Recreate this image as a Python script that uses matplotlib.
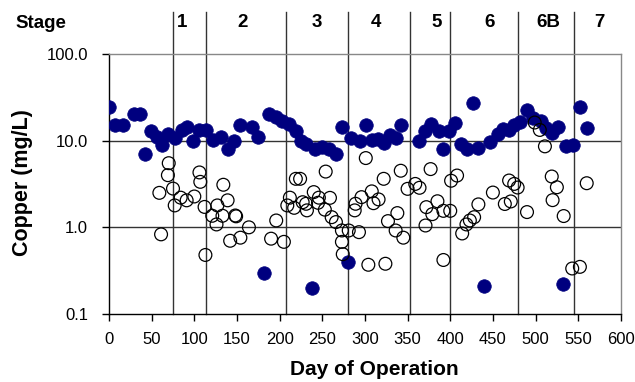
import matplotlib
matplotlib.use("Agg")
import matplotlib.pyplot as plt
import numpy as np

plt.rcParams['font.family'] = ['Liberation Sans', 'DejaVu Sans']

# Filled (blue) series
filled_day = [0, 7, 16, 29, 36, 42, 49, 56, 62, 69, 77, 85, 91, 98, 106, 114, 122, 131, 139,
              147, 154, 168, 175, 182, 188, 196, 203, 211, 219, 225, 231, 238, 242, 250, 258, 266,
              273, 280, 284, 294, 301, 308, 315, 322, 329, 336, 342, 363, 371, 378, 387, 392,
              399, 406, 413, 420, 427, 433, 440, 447, 456, 462, 469, 475, 482, 490, 497, 506,
              512, 519, 526, 532, 536, 544, 552, 560]
filled_val = [24.6, 15.1, 15.1, 20.3, 20.3, 7.0, 13.0, 10.9, 8.9, 12.1, 10.6, 13.3, 14.2, 10.0,
              13.3, 13.3, 10.2, 10.9, 8.0, 10.0, 15.1, 14.2, 10.9, 0.30, 20.3, 18.6, 17.0, 15.6,
              13.0, 10.0, 9.1, 0.20, 8.0, 8.4, 8.0, 7.0, 14.5, 0.40, 10.8, 10.0, 15.3, 10.3,
              10.5, 9.5, 11.6, 10.7, 15.3, 9.9, 13.0, 15.6, 12.8, 8.0, 13.0, 16.2, 9.1, 8.0,
              26.9, 8.2, 0.21, 9.7, 12.0, 13.7, 13.2, 15.2, 16.5, 22.3, 18.2, 17.0, 14.0,
              12.2, 14.2, 0.22, 8.6, 9.0, 24.6, 14.0]

# Open series
open_day = [59, 61, 69, 70, 75, 77, 84, 91, 100, 106, 107, 112, 113, 121, 126, 127, 133, 134,
            139, 142, 148, 149, 154, 164, 190, 196, 205, 209, 212, 217, 219, 224, 227, 231,
            232, 240, 246, 245, 253, 254, 259, 261, 266, 273, 273, 274, 281, 288, 289, 293,
            296, 301, 304, 308, 310, 316, 322, 324, 327, 336, 338, 342, 345, 350, 359, 364,
            371, 372, 377, 379, 385, 392, 392, 400, 401, 408, 414, 419, 423, 428, 433, 450,
            464, 469, 471, 475, 479, 490, 499, 505, 511, 519, 520, 525, 533, 543, 552, 560]
open_val = [2.5, 0.83, 4.0, 5.5, 2.8, 1.79, 2.2, 2.05, 2.27, 4.3, 3.35, 1.72, 0.48, 1.36,
            1.08, 1.79, 1.36, 3.1, 2.05, 0.70, 1.37, 1.34, 0.76, 1.0, 0.74, 1.2, 0.68, 1.79,
            2.2, 1.68, 3.63, 3.63, 1.95, 1.87, 1.57, 2.55, 2.2, 1.92, 1.6, 4.4, 2.19, 1.31,
            1.15, 0.92, 0.68, 0.49, 0.92, 1.57, 1.87, 0.88, 2.23, 6.3, 0.37, 2.6, 1.9, 2.1,
            3.63, 0.38, 1.18, 0.92, 1.46, 4.5, 0.76, 2.78, 3.17, 2.86, 1.05, 1.71, 4.7, 1.42,
            2.0, 1.55, 0.42, 1.55, 3.45, 3.96, 0.85, 1.08, 1.2, 1.31, 1.84, 2.52, 1.86, 3.47,
            1.99, 3.17, 2.88, 1.5, 16.2, 13.3, 8.6, 3.86, 2.06, 2.9, 1.35, 0.335, 0.35, 3.23]

stage_bounds = [75, 114, 208, 280, 353, 400, 480, 545]
stage_labels = ["1", "2", "3", "4", "5", "6", "6B", "7"]
stage_label_x = [86, 156, 244, 313, 384, 446, 515, 575]

fig = plt.figure(figsize=(6.35, 3.82), dpi=100)
ax = fig.add_axes([0.1717, 0.178, 0.806, 0.6806])

ax.set_yscale('log')
ax.set_xlim(0, 600)
ax.set_ylim(0.1, 100)

for v in [1, 10]:
    ax.axhline(v, color='#333333', lw=1.0, zorder=1)

for b in stage_bounds:
    ax.plot([b, b], [0, 1.162], transform=ax.get_xaxis_transform(), color='#333333',
            lw=1.0, clip_on=False, zorder=1)

ax.scatter(filled_day, filled_val, s=95, color='#00007f', edgecolors='#00007f',
           linewidths=0.5, zorder=3)
ax.scatter(open_day, open_val, s=85, facecolors='none', edgecolors='black',
           linewidths=0.9, zorder=4)

for lab, x in zip(stage_labels, stage_label_x):
    ax.text(x, 1.123, lab, transform=ax.get_xaxis_transform(), ha='center', va='center',
            fontsize=13.5, fontweight='bold')
fig.text(40.5 / 635, 1 - 23 / 382, "Stage", ha='center', va='center', fontsize=13.5,
         fontweight='bold')

ax.set_xticks(np.arange(0, 601, 50))
ax.set_yticks([0.1, 1, 10, 100])
ax.set_yticklabels(["0.1", "1.0", "10.0", "100.0"])
ax.yaxis.set_minor_locator(matplotlib.ticker.NullLocator())
ax.tick_params(axis='both', labelsize=12, direction='out', length=5, width=1)
ax.tick_params(axis='y', pad=10)
ax.tick_params(axis='x', pad=8)

for s in ['top', 'right']:
    ax.spines[s].set_color('#888888')
    ax.spines[s].set_linewidth(1.0)
for s in ['left', 'bottom']:
    ax.spines[s].set_color('black')
    ax.spines[s].set_linewidth(1.0)

ax.set_xlabel("Day of Operation", fontsize=15, fontweight='bold', va='center')
ax.set_ylabel("Copper (mg/L)", fontsize=15.5, fontweight='bold', va='center')
ax.xaxis.set_label_coords(0.519, -0.215)
ax.yaxis.set_label_coords(-0.169, 0.504)

fig.savefig("out.png", dpi=100)
